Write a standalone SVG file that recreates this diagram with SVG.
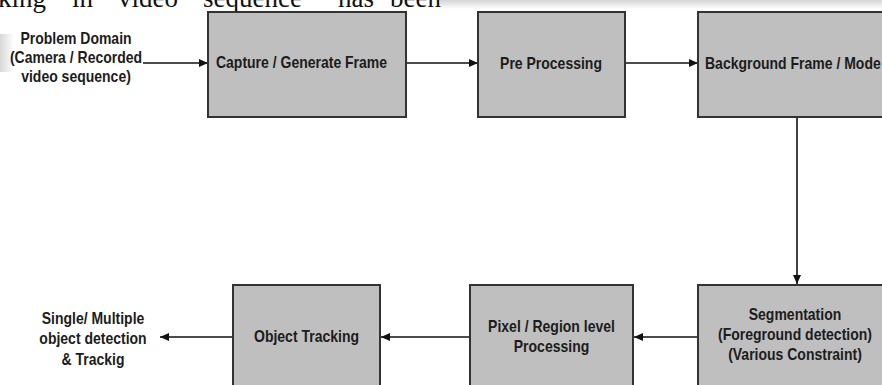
<svg xmlns="http://www.w3.org/2000/svg" width="882" height="385" viewBox="0 0 882 385">
  <defs>
    <marker id="ah" markerWidth="10" markerHeight="8" refX="9" refY="4" orient="auto" markerUnits="userSpaceOnUse">
      <path d="M0,0 L9,4 L0,8 Z" fill="#111"/>
    </marker>
    <linearGradient id="band" x1="0" y1="0" x2="0" y2="1">
      <stop offset="0" stop-color="#d4d4d4"/>
      <stop offset="1" stop-color="#ffffff"/>
    </linearGradient>
    <linearGradient id="side" x1="0" y1="0" x2="1" y2="0">
      <stop offset="0" stop-color="#d8d8d8"/>
      <stop offset="1" stop-color="#ffffff"/>
    </linearGradient>
  </defs>
  <style>
    .box { fill: #bfbfbf; stroke: #333; stroke-width: 2; }
    .lbl { font-family: "Liberation Sans", Arial, sans-serif; font-weight: bold; font-size: 14px; fill: #1c1c1c; text-anchor: middle; }
    .start { text-anchor: start; }
    .conn { stroke: #111; stroke-width: 1.6; fill: none; marker-end: url(#ah); }
    .para { font-family: "Liberation Serif", "Times New Roman", serif; font-size: 27px; fill: #111; }
  </style>
  <rect width="882" height="385" fill="#fff"/>
  <rect x="440" y="0" width="442" height="9" fill="url(#band)"/>
  <rect x="0" y="34" width="14" height="38" fill="url(#side)"/>
  <g id="paragraph-text" class="para">
    <text x="-2" y="7">king</text>
    <text x="72" y="7">in</text>
    <text x="118" y="7">video</text>
    <text x="203" y="7">sequence</text>
    <text x="338" y="7">has</text>
    <text x="390" y="7">been</text>
  </g>
  <g id="connectors">
    <line class="conn" x1="143" y1="63" x2="208" y2="63"/>
    <line class="conn" x1="388" y1="63" x2="478" y2="63"/>
    <line class="conn" x1="626" y1="63" x2="698" y2="63"/>
    <line class="conn" x1="797" y1="118" x2="797" y2="284"/>
    <line class="conn" x1="698" y1="337" x2="634" y2="337"/>
    <line class="conn" x1="470" y1="337" x2="381" y2="337"/>
    <line class="conn" x1="233" y1="337" x2="160" y2="337"/>
  </g>
  <g id="problem-domain">
    <text class="lbl" transform="translate(76,44) scale(1,1.15)"><tspan x="0" y="0">Problem Domain</tspan><tspan x="0" dy="16.5">(Camera / Recorded</tspan><tspan x="0" dy="16.5">video sequence)</tspan></text>
  </g>
  <g id="capture">
    <rect class="box" x="208" y="12" width="198" height="105"/>
    <text class="lbl" transform="translate(301.5,68) scale(1,1.15)">Capture / Generate Frame</text>
  </g>
  <g id="preprocessing">
    <rect class="box" x="478" y="12" width="147" height="105"/>
    <text class="lbl" transform="translate(551,69) scale(1,1.15)">Pre Processing</text>
  </g>
  <g id="background">
    <rect class="box" x="698" y="12" width="198" height="105"/>
    <text class="lbl start" transform="translate(705,69) scale(1,1.15)">Background Frame / Mode</text>
  </g>
  <g id="segmentation">
    <rect class="box" x="698" y="285" width="198" height="110"/>
    <text class="lbl" transform="translate(795,320) scale(1,1.15)"><tspan x="0" y="0">Segmentation</tspan><tspan x="0" dy="17.4">(Foreground detection)</tspan><tspan x="0" dy="17.4">(Various Constraint)</tspan></text>
  </g>
  <g id="pixel-region">
    <rect class="box" x="470" y="285" width="163" height="110"/>
    <text class="lbl" transform="translate(551.5,332) scale(1,1.15)"><tspan x="0" y="0">Pixel / Region level</tspan><tspan x="0" dy="17.4">Processing</tspan></text>
  </g>
  <g id="object-tracking">
    <rect class="box" x="233" y="285" width="147" height="110"/>
    <text class="lbl" transform="translate(306.5,342) scale(1,1.15)">Object Tracking</text>
  </g>
  <g id="output">
    <text class="lbl" transform="translate(93,324) scale(1,1.15)"><tspan x="0" y="0">Single/ Multiple</tspan><tspan x="0" dy="17.8">object detection</tspan><tspan x="0" dy="17.8">&amp; Trackig</tspan></text>
  </g>
</svg>
